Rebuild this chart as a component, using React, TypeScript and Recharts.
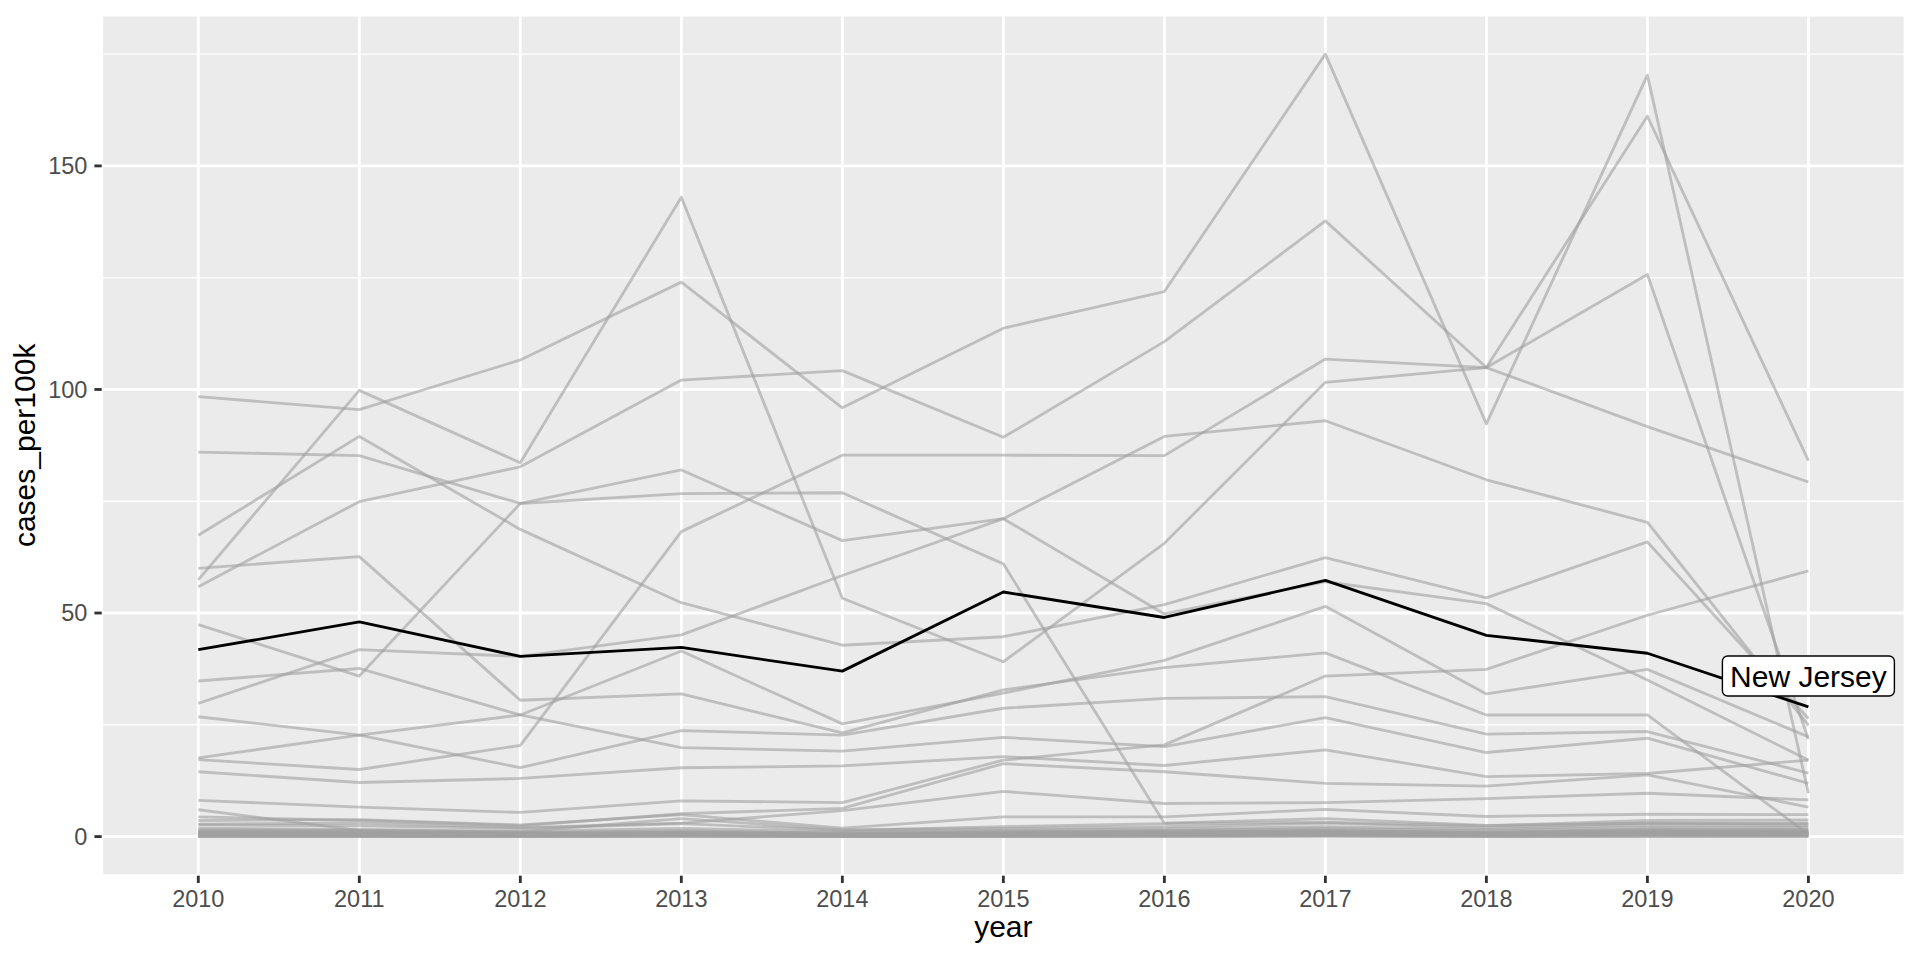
import React from 'react';
import { LineChart, Line, XAxis, YAxis, CartesianGrid, ReferenceDot } from 'recharts';

const years = ['2010', '2011', '2012', '2013', '2014', '2015', '2016', '2017', '2018', '2019', '2020'];
const yTicks = [0, 50, 100, 150];
const yMinorTicks = [25, 75, 125, 175];
const yDomain: [number, number] = [-8.75, 183.75];

const newJersey = [41.8, 48.0, 40.3, 42.3, 37.0, 54.7, 49.0, 57.3, 45.0, 41.0, 29.0];
const labelNudge = 6.9;

const s01 = [98.4, 95.5, 106.6, 124.0, 95.9, 113.7, 121.9, 175.0, 92.3, 170.3, 9.7];
const s02 = [55.9, 74.9, 82.7, 102.1, 104.2, 89.3, 110.7, 137.7, 104.9, 161.1, 84.1];
const s03 = [57.4, 99.8, 83.6, 143.0, 53.3, 39.1, 65.6, 101.6, 104.9, 125.7, 21.8];
const s04 = [86.0, 85.2, 74.5, 82.0, 66.2, 71.1, 49.8, 57.0, 52.1, 35.0, 17.1];
const s05 = [67.4, 89.5, 68.7, 52.3, 42.8, 44.7, 51.9, 62.4, 53.4, 65.9, 26.4];
const s06 = [17.2, 15.0, 20.4, 68.2, 85.3, 85.3, 85.2, 106.8, 104.9, 91.7, 79.3];
const s07 = [29.8, 41.8, 40.3, 45.1, 58.4, 71.1, 89.5, 93.0, 79.8, 70.3, 24.9];
const s08 = [47.4, 35.9, 74.5, 76.7, 76.9, 61.0, 3.0, 4.0, 2.5, 3.0, 2.8];
const s09 = [34.8, 37.6, 27.2, 19.9, 19.1, 22.2, 20.1, 26.6, 18.8, 22.0, 11.9];
const s10 = [60.0, 62.6, 30.5, 31.9, 23.2, 32.8, 37.8, 41.1, 27.2, 27.2, 0.5];
const s11 = [26.8, 22.7, 15.4, 23.7, 22.7, 28.7, 30.9, 31.3, 22.9, 23.5, 14.2];
const s12 = [17.6, 22.7, 27.2, 41.5, 25.2, 32.1, 39.4, 51.5, 31.9, 37.4, 22.3];
const s13 = [14.5, 12.1, 13.0, 15.4, 15.8, 17.9, 15.9, 19.4, 13.4, 14.1, 17.1];
const s14 = [8.1, 6.6, 5.4, 8.0, 7.6, 17.1, 20.5, 35.9, 37.4, 49.5, 59.4];
const s15 = [4.4, 3.6, 2.4, 5.1, 6.3, 16.3, 14.5, 11.9, 11.3, 13.8, 6.6];
const s16 = [2.8, 3.0, 2.0, 3.0, 5.8, 10.1, 7.4, 7.6, 8.5, 9.7, 8.2];
const s17 = [3.6, 3.8, 2.6, 4.9, 1.9, 4.4, 4.4, 6.1, 4.5, 5.0, 4.9];
const s18 = [6.0, 1.4, 1.1, 4.0, 1.5, 1.8, 2.2, 3.0, 2.0, 3.0, 3.0];
const s19 = [2.6, 2.4, 1.8, 2.9, 1.4, 2.2, 2.9, 3.2, 2.4, 3.6, 3.7];
const s20 = [1.9, 1.6, 1.2, 1.8, 1.1, 1.4, 1.7, 2.2, 1.6, 2.6, 2.4];
const s21 = [1.5, 1.4, 0.9, 1.3, 0.8, 1.2, 1.4, 1.8, 1.3, 2.1, 2.0];
const s22 = [1.2, 1.1, 0.8, 1.1, 0.6, 1.0, 1.2, 1.5, 1.0, 1.7, 1.6];
const s23 = [1.0, 0.9, 0.7, 0.9, 0.5, 0.8, 1.0, 1.3, 0.9, 1.4, 1.3];
const s24 = [0.8, 0.7, 0.6, 0.8, 0.4, 0.7, 0.8, 1.1, 0.7, 1.2, 1.1];
const s25 = [0.6, 0.6, 0.4, 0.6, 0.3, 0.5, 0.6, 0.9, 0.6, 1.0, 0.9];
const s26 = [0.5, 0.4, 0.3, 0.5, 0.2, 0.4, 0.5, 0.7, 0.5, 0.8, 0.7];
const s27 = [0.3, 0.3, 0.2, 0.3, 0.1, 0.3, 0.3, 0.5, 0.3, 0.6, 0.5];
const s28 = [0.2, 0.2, 0.1, 0.2, 0.1, 0.2, 0.2, 0.3, 0.2, 0.4, 0.3];
const s29 = [0.1, 0.1, 0.1, 0.1, 0.0, 0.1, 0.1, 0.2, 0.1, 0.2, 0.2];
const s30 = [0.0, 0.0, 0.0, 0.1, 0.0, 0.0, 0.1, 0.1, 0.0, 0.1, 0.1];
const s31 = [1.3, 1.2, 0.5, 1.0, 0.7, 0.9, 1.1, 1.2, 0.8, 1.5, 1.4];
const s32 = [0.9, 0.8, 0.5, 0.7, 0.4, 0.6, 0.9, 1.0, 0.6, 1.1, 1.0];
const s33 = [0.7, 0.5, 0.3, 0.4, 0.3, 0.4, 0.7, 0.8, 0.4, 0.9, 0.8];
const s34 = [0.4, 0.3, 0.2, 0.3, 0.2, 0.3, 0.4, 0.6, 0.3, 0.7, 0.6];
const s35 = [0.2, 0.1, 0.1, 0.2, 0.1, 0.1, 0.2, 0.4, 0.2, 0.5, 0.4];
const s36 = [0.0, 0.0, 0.0, 0.0, 0.0, 0.0, 0.0, 0.1, 0.0, 0.0, 0.0];

const greySeries = [
  { key: 's01', values: s01 }, { key: 's02', values: s02 }, { key: 's03', values: s03 },
  { key: 's04', values: s04 }, { key: 's05', values: s05 }, { key: 's06', values: s06 },
  { key: 's07', values: s07 }, { key: 's08', values: s08 }, { key: 's09', values: s09 },
  { key: 's10', values: s10 }, { key: 's11', values: s11 }, { key: 's12', values: s12 },
  { key: 's13', values: s13 }, { key: 's14', values: s14 }, { key: 's15', values: s15 },
  { key: 's16', values: s16 }, { key: 's17', values: s17 }, { key: 's18', values: s18 },
  { key: 's19', values: s19 }, { key: 's20', values: s20 }, { key: 's21', values: s21 },
  { key: 's22', values: s22 }, { key: 's23', values: s23 }, { key: 's24', values: s24 },
  { key: 's25', values: s25 }, { key: 's26', values: s26 }, { key: 's27', values: s27 },
  { key: 's28', values: s28 }, { key: 's29', values: s29 }, { key: 's30', values: s30 },
  { key: 's31', values: s31 }, { key: 's32', values: s32 }, { key: 's33', values: s33 },
  { key: 's34', values: s34 }, { key: 's35', values: s35 }, { key: 's36', values: s36 },
];

const data = years.map((year, i) => {
  const row: Record<string, any> = { year };
  greySeries.forEach((s) => {
    row[s.key] = s.values[i];
  });
  row.newJersey = newJersey[i];
  return row;
});

const FONT = '"Liberation Sans", Arial, Helvetica, sans-serif';
const LW = 2.84;

const tickStyle = { fontFamily: FONT, fontSize: 23.5, fill: '#4D4D4D' };
const tickLineStyle = { stroke: '#333333', strokeWidth: LW };

const YTitle = (props: any) => {
  const vb = props.viewBox || { x: 0, y: 0, width: 0, height: 0 };
  const cx = vb.x + 35.5;
  const cy = vb.y + vb.height / 2;
  return (
    <text
      x={cx}
      y={cy}
      transform={`rotate(-90 ${cx} ${cy})`}
      textAnchor="middle"
      fontFamily={FONT}
      fontSize={30}
      fill="#000000"
    >
      cases_per100k
    </text>
  );
};

const XTitle = (props: any) => {
  const vb = props.viewBox || { x: 0, y: 0, width: 0, height: 0 };
  const cx = vb.x + vb.width / 2;
  const by = vb.y + 61.3;
  return (
    <text x={cx} y={by} textAnchor="middle" fontFamily={FONT} fontSize={30} fill="#000000">
      year
    </text>
  );
};

const NJLabel = (props: any) => {
  const { cx, cy } = props;
  if (cx == null || cy == null) return null;
  const w = 172;
  const h = 40;
  return (
    <g>
      <rect
        x={cx - w / 2}
        y={cy - h / 2}
        width={w}
        height={h}
        rx={5.3}
        ry={5.3}
        fill="#FFFFFF"
        stroke="#000000"
        strokeWidth={1.4}
      />
      <text
        x={cx}
        y={cy}
        textAnchor="middle"
        dominantBaseline="central"
        fontFamily={FONT}
        fontSize={30}
        fill="#000000"
      >
        New Jersey
      </text>
    </g>
  );
};

export default function App() {
  return (
    <div style={{ position: 'absolute', left: 0, top: 0, width: 1920, height: 960, background: '#FFFFFF' }}>
      <LineChart width={1920} height={960} data={data} margin={{ top: 15, right: 15, bottom: 0, left: 0 }}>
        <CartesianGrid fill="#EBEBEB" stroke="#FFFFFF" strokeWidth={LW} />
        <CartesianGrid
          stroke="#FFFFFF"
          strokeWidth={LW / 2}
          vertical={false}
          horizontalValues={yMinorTicks}
        />
        <XAxis
          dataKey="year"
          type="category"
          interval={0}
          padding={{ left: 96.6, right: 96.6 }}
          height={84.3}
          axisLine={false}
          tickLine={tickLineStyle}
          tickSize={7.3}
          tickMargin={7}
          tick={tickStyle}
          label={XTitle}
        />
        <YAxis
          type="number"
          domain={yDomain}
          ticks={yTicks}
          allowDataOverflow
          width={101.7}
          axisLine={false}
          tickLine={tickLineStyle}
          tickSize={7.3}
          tickMargin={7}
          tick={tickStyle}
          label={YTitle}
        />
        {greySeries.map((s) => (
          <Line
            key={s.key}
            dataKey={s.key}
            type="linear"
            stroke="#A0A0A0"
            strokeOpacity={0.6}
            strokeWidth={LW}
            strokeLinejoin="round"
            dot={false}
            activeDot={false}
            isAnimationActive={false}
          />
        ))}
        <Line
          dataKey="newJersey"
          type="linear"
          stroke="#000000"
          strokeWidth={LW}
          strokeLinejoin="round"
          dot={false}
          activeDot={false}
          isAnimationActive={false}
        />
        <ReferenceDot
          x={years[years.length - 1]}
          y={newJersey[newJersey.length - 1] + labelNudge}
          r={0}
          shape={NJLabel}
        />
      </LineChart>
    </div>
  );
}
